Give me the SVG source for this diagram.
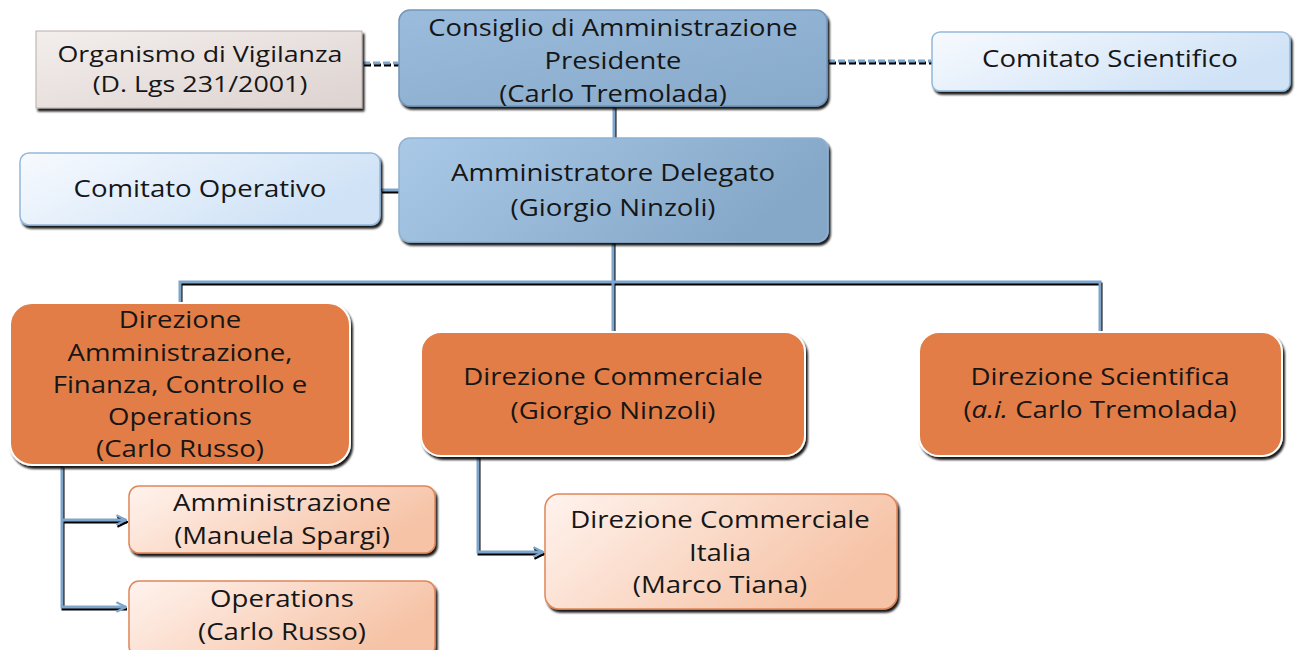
<svg xmlns="http://www.w3.org/2000/svg" width="1296" height="650" viewBox="0 0 1296 650">
<defs>
<linearGradient id="gGray" x1="0" y1="0" x2="1" y2="1"><stop offset="0" stop-color="#f3eeec"/><stop offset="1" stop-color="#ddd3d0"/></linearGradient>
<linearGradient id="gBlue" x1="0" y1="0" x2="1" y2="1"><stop offset="0" stop-color="#9bbcdc"/><stop offset="1" stop-color="#87a9ca"/></linearGradient>
<linearGradient id="gAD" x1="0" y1="0" x2="1" y2="0.3"><stop offset="0" stop-color="#a9c9e7"/><stop offset="1" stop-color="#86a8c8"/></linearGradient>
<linearGradient id="gLight" x1="0" y1="0" x2="1" y2="0.4"><stop offset="0" stop-color="#f7fafe"/><stop offset="1" stop-color="#cfe2f6"/></linearGradient>
<linearGradient id="gPeach" x1="0" y1="0" x2="1" y2="0.4"><stop offset="0" stop-color="#fff3ee"/><stop offset="1" stop-color="#f6c3a6"/></linearGradient>
<filter id="sh" x="-5%" y="-10%" width="115%" height="130%">
<feGaussianBlur in="SourceAlpha" stdDeviation="0.8"/><feOffset dx="2" dy="3" result="o"/>
<feComponentTransfer><feFuncA type="linear" slope="0.9"/></feComponentTransfer>
<feMerge><feMergeNode/><feMergeNode in="SourceGraphic"/></feMerge>
</filter>
<marker id="arr" viewBox="0 0 10 10" refX="9" refY="5" markerWidth="4" markerHeight="4" orient="auto" markerUnits="strokeWidth">
<path d="M1,1 L9,5 L1,9" fill="none" stroke="#7ea6cc" stroke-width="2"/>
</marker>
<marker id="arrS" viewBox="0 0 10 10" refX="9" refY="5" markerWidth="4" markerHeight="4" orient="auto" markerUnits="strokeWidth">
<path d="M1,1 L9,5 L1,9" fill="none" stroke="#000" stroke-width="2"/>
</marker>
</defs>
<style>
text{font-family:"Open Sans","DejaVu Sans",sans-serif;fill:#161616;text-anchor:middle}
.t22{font-size:23px}
.t20{font-size:22px}
.ln{fill:none;stroke:#7ea6cc;stroke-width:3}
.lns{fill:none;stroke:#000;stroke-width:3}
.dash{fill:none;stroke:#7ea6cc;stroke-width:3;stroke-dasharray:7 3}
.dashs{fill:none;stroke:#000;stroke-width:3;stroke-dasharray:7 3}
</style>
<rect width="1296" height="650" fill="#fff"/>
<g id="connectors">
<g transform="translate(1,2)">
<path class="dashs" d="M363,63 H398"/>
<path class="dashs" d="M828,61 H931"/>
<path class="lns" d="M614,106 V138"/>
<path class="lns" d="M381,190 H399"/>
<path class="lns" d="M613,242 V282 M180,302 V282 H1100 V331 M613,282 V331"/>
<path class="lns" d="M62,466 V607 H126 M62,520 H126" marker-end="url(#arrS)"/>
<path class="lns" d="M478,456 V552 H543" marker-end="url(#arrS)"/>
</g>
<path class="dash" d="M363,63 H398"/>
<path class="dash" d="M828,61 H931"/>
<path class="ln" d="M614,106 V138"/>
<path class="ln" d="M381,190 H399"/>
<path class="ln" d="M613,242 V282 M180,302 V282 H1100 V331 M613,282 V331"/>
<path class="ln" d="M62,466 V607 H126" marker-end="url(#arr)"/>
<path class="ln" d="M62,520 H126" marker-end="url(#arr)"/>
<path class="ln" d="M478,456 V552 H543" marker-end="url(#arr)"/>
</g>
<g id="organismo">
<rect x="36" y="31" width="326" height="77" fill="url(#gGray)" stroke="#b9aeab" stroke-width="1" filter="url(#sh)"/>
<g transform="translate(200 0) scale(1.22 1)">
<text class="t20" x="0" y="62">Organismo di Vigilanza</text>
<text class="t20" x="0" y="92">(D. Lgs 231/2001)</text>
</g>
</g>
<g id="consiglio">
<rect x="399" y="10" width="428" height="96" rx="11" fill="url(#gBlue)" stroke="#7196bb" stroke-width="1.5" filter="url(#sh)"/>
<g transform="translate(613 0) scale(1.19 1)">
<text class="t22" x="0" y="36">Consiglio di Amministrazione</text>
<text class="t22" x="0" y="69">Presidente</text>
<text class="t22" x="0" y="102">(Carlo Tremolada)</text>
</g>
</g>
<g id="comitato-scientifico">
<rect x="932" y="32" width="358" height="59" rx="8" fill="url(#gLight)" stroke="#94b8da" stroke-width="1.5" filter="url(#sh)"/>
<g transform="translate(1110 0) scale(1.2 1)">
<text class="t22" x="0" y="67">Comitato Scientifico</text>
</g>
</g>
<g id="comitato-operativo">
<rect x="20" y="153" width="360" height="72" rx="9" fill="url(#gLight)" stroke="#94b8da" stroke-width="1.5" filter="url(#sh)"/>
<g transform="translate(200 0) scale(1.2 1)">
<text class="t22" x="0" y="197">Comitato Operativo</text>
</g>
</g>
<g id="amministratore">
<rect x="399" y="138" width="429" height="104" rx="11" fill="url(#gAD)" stroke="#8fb1d2" stroke-width="1.5" filter="url(#sh)"/>
<g transform="translate(613 0) scale(1.2 1)">
<text class="t22" x="0" y="181">Amministratore Delegato</text>
<text class="t22" x="0" y="216">(Giorgio Ninzoli)</text>
</g>
</g>
<g id="dir-afco">
<rect x="10" y="303" width="340" height="162" rx="22" fill="#e27d46" stroke="#fff" stroke-width="2" filter="url(#sh)"/>
<g transform="translate(180 0) scale(1.2 1)">
<text class="t22" x="0" y="328">Direzione</text>
<text class="t22" x="0" y="361">Amministrazione,</text>
<text class="t22" x="0" y="393">Finanza, Controllo e</text>
<text class="t22" x="0" y="425">Operations</text>
<text class="t22" x="0" y="457">(Carlo Russo)</text>
</g>
</g>
<g id="dir-commerciale">
<rect x="421" y="332" width="384" height="124" rx="20" fill="#e27d46" stroke="#fff" stroke-width="2" filter="url(#sh)"/>
<g transform="translate(613 0) scale(1.2 1)">
<text class="t22" x="0" y="385">Direzione Commerciale</text>
<text class="t22" x="0" y="419">(Giorgio Ninzoli)</text>
</g>
</g>
<g id="dir-scientifica">
<rect x="919" y="332" width="363" height="124" rx="20" fill="#e27d46" stroke="#fff" stroke-width="2" filter="url(#sh)"/>
<g transform="translate(1100 0) scale(1.2 1)">
<text class="t22" x="0" y="385">Direzione Scientifica</text>
<text class="t22" x="0" y="418">(<tspan font-style="italic">a.i.</tspan> Carlo Tremolada)</text>
</g>
</g>
<g id="amministrazione">
<rect x="129" y="486" width="306" height="67" rx="10" fill="url(#gPeach)" stroke="#e0875a" stroke-width="1.5" filter="url(#sh)"/>
<g transform="translate(282 0) scale(1.2 1)">
<text class="t22" x="0" y="511">Amministrazione</text>
<text class="t22" x="0" y="544">(Manuela Spargi)</text>
</g>
</g>
<g id="operations">
<rect x="129" y="581" width="306" height="75" rx="10" fill="url(#gPeach)" stroke="#e0875a" stroke-width="1.5" filter="url(#sh)"/>
<g transform="translate(282 0) scale(1.2 1)">
<text class="t22" x="0" y="607">Operations</text>
<text class="t22" x="0" y="640">(Carlo Russo)</text>
</g>
</g>
<g id="dir-commerciale-italia">
<rect x="545" y="494" width="352" height="115" rx="14" fill="url(#gPeach)" stroke="#e0875a" stroke-width="1.5" filter="url(#sh)"/>
<g transform="translate(720 0) scale(1.2 1)">
<text class="t22" x="0" y="528">Direzione Commerciale</text>
<text class="t22" x="0" y="561">Italia</text>
<text class="t22" x="0" y="593">(Marco Tiana)</text>
</g>
</g>
</svg>
